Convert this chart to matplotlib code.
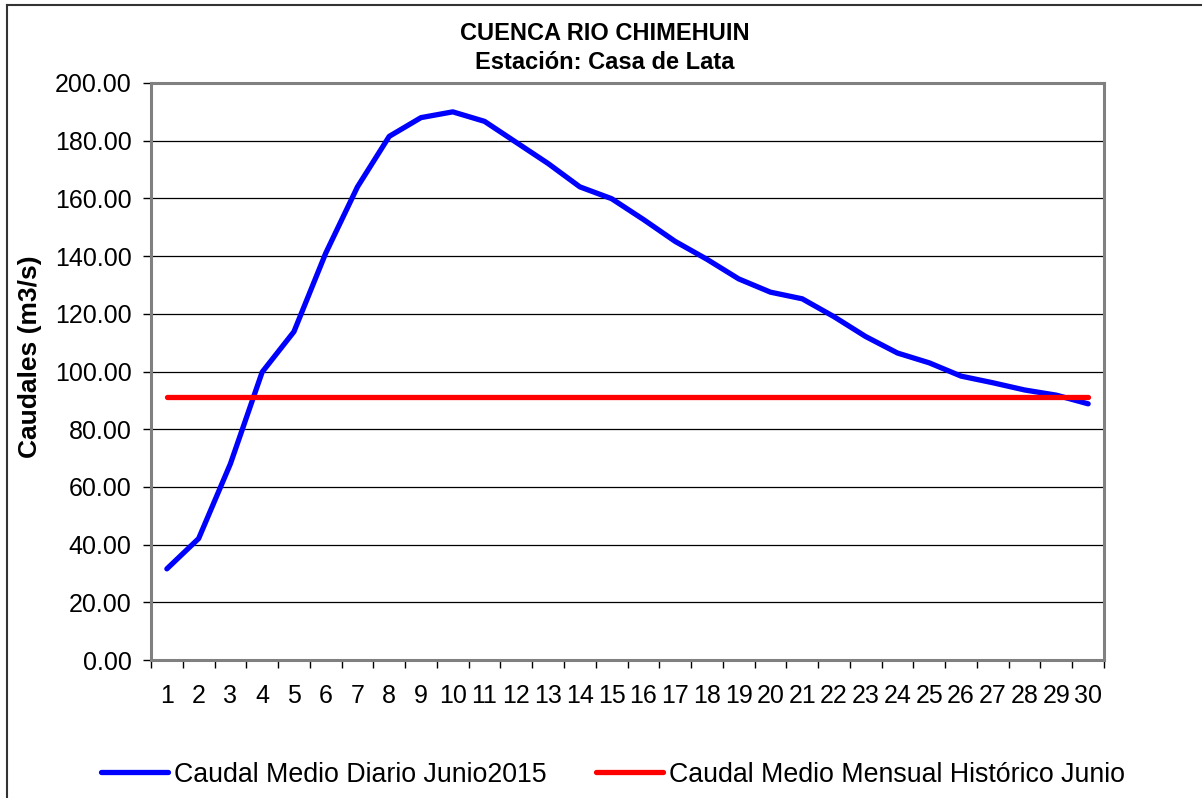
import numpy as np
import matplotlib.pyplot as plt
from matplotlib.lines import Line2D

plt.rcParams['font.family'] = ['Liberation Sans', 'DejaVu Sans']

dias = list(range(1, 31))
caudal_diario = [31.6, 42.1, 68.0, 99.8, 113.8, 141.0, 164.0, 181.5, 188.0, 190.0,
                 186.7, 179.4, 172.1, 164.0, 159.9, 152.7, 145.1, 138.9, 132.1, 127.5,
                 125.2, 119.0, 112.1, 106.4, 103.0, 98.4, 96.1, 93.6, 91.8, 88.8]
caudal_historico = [91.2] * 30

fig = plt.figure(figsize=(12.02, 7.98), dpi=100)
ax = fig.add_axes([0.1256, 0.1729, 0.7929, 0.7231])

x = np.arange(len(dias))
ax.plot(x, caudal_diario, color='#0000ff', lw=3.8, solid_capstyle='round',
        label='Caudal Medio Diario Junio2015', zorder=3)
ax.plot(x, caudal_historico, color='#ff0000', lw=3.8, solid_capstyle='round',
        label='Caudal Medio Mensual Histórico Junio', zorder=3)

ax.set_xlim(-0.5, len(dias) - 0.5)
ax.set_ylim(0, 200)
ax.set_yticks(np.arange(0, 201, 20))
ax.set_yticklabels(['%.2f' % v for v in np.arange(0, 201, 20)], fontsize=18)
ax.set_xticks(x)
ax.set_xticklabels([str(d) for d in dias], fontsize=18)
ax.set_xticks(np.arange(-0.5, len(dias)), minor=True)
ax.tick_params(axis='x', which='major', length=0, pad=17)
ax.tick_params(axis='x', which='minor', length=6, width=1, color='black')
ax.tick_params(axis='y', length=6, width=1, color='black', pad=8)

ax.yaxis.grid(True, color='black', lw=0.9)
ax.set_axisbelow(True)
for s in ax.spines.values():
    s.set_color('#808080')
    s.set_linewidth(2.2)

fig.text(0.025, 0.5526, 'Caudales (m3/s)', rotation=90, ha='center', va='center',
         fontsize=19, fontweight='bold')

fig.text(0.503, 0.958, 'CUENCA RIO CHIMEHUIN', ha='center', va='center',
         fontsize=17, fontweight='bold')
fig.text(0.503, 0.922, 'Estación: Casa de Lata', ha='center', va='center',
         fontsize=17, fontweight='bold')

fig.legend(loc='center', bbox_to_anchor=(0.51, 0.029), ncol=2, frameon=False,
           fontsize=19.3, handlelength=2.5, handletextpad=0.22, columnspacing=1.87)

# marco exterior
fig.add_artist(Line2D([0.006, 0.006], [0.0, 0.994], color='#333333', lw=1.5,
                      transform=fig.transFigure))
fig.add_artist(Line2D([0.006, 1.0], [0.994, 0.994], color='#333333', lw=1.5,
                      transform=fig.transFigure))

fig.savefig('out.png', dpi=100)
